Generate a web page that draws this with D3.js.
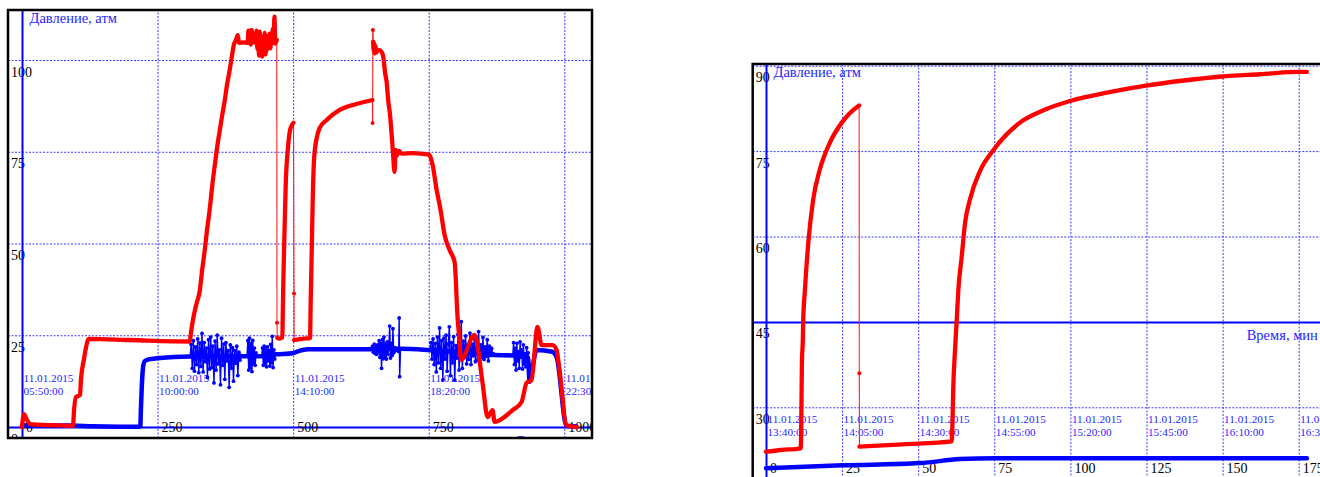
<!doctype html>
<html lang="ru">
<head>
<meta charset="UTF-8">
<title>Давление, атм</title>
<style>
  body { margin: 0; background: #fff; }
  svg text { font-family: "Liberation Serif", "DejaVu Serif", serif; }
</style>
</head>
<body>
<script src="https://d3js.org/d3.v7.min.js"></script>
<script>
// ---- data: left chart (minutes from 11.01.2015 05:50) ----
var leftXTicks = [0, 250, 500, 750, 1000];
var leftYTicks = [0, 25, 50, 75, 100];
var leftTimes = ["05:50:00", "10:00:00", "14:10:00", "18:20:00", "22:30:00"];

// red pressure, split where the logger jumps (drawn thin between parts)
var leftRed = [
  [[0,0],[3.7,3.5],[7.4,2.5],[14.7,0.8],[51.6,0.5],[79,0.4],[94,0.3],[96,4.6],[99.5,8.2],[103,8.4],[107,8.7],
   [108.7,12.8],[114,18.3],[121.6,23.7],[123,24],[199,23.7],[309.5,23.3],[311,25],[315,29],
   [321,33.2],[328,37.3],[332,42.5],[337,48.2],[341,53.4],[346,59.1],[351,66],[355.6,71.4],[360,76.4],
   [364.8,80.9],[369,84.8],[374,89.1],[378,93.2],[383,97.3],[387,101],[390.6,104.1],[394,105.2],[398,106.8],
   [400,104.7],[410,104.8],[416,104.6],
   [417.5,108.0],[419,105.5],[420.5,107.2],[422,104.2],[423.5,108.2],[425,105.0],[426.5,106.5],[428,104.8],
   [429.5,107.0],[431,105.2],[432.5,108.0],[434,103.0],[435.5,106.8],[437,101.2],[438.5,107.7],[440,102.5],
   [441.5,105.8],[443,100.9],[444.5,106.2],[446,103.5],[447.5,107.4],[449,101.5],[450.5,105.0],[452,102.8],
   [453.5,106.6],[455,104.0],[456.5,107.2],[458,103.2],[459.5,105.8],[461,104.5],[462.5,108.5],[464,106.0],
   [465.5,111.8],[467,104.5],[469.8,105.5]],
  [[470.2,28.4]],
  [[470.8,24.3],[475,24.1],[480,24.4],[480.5,27],[481,32],[481.6,37],[482.1,40.9],[484,52.9],[486.4,66.5],
   [490.1,75.5],[494.3,80.9],[497.5,82.2],[500.6,82.9]],
  [[501.6,36.4]],
  [[501.8,23.7],[510,23.9],[520,24.1],[531.1,24.2],[532.4,34.6],[534.3,48.2],[536.1,61.9],[538.5,72.8],
   [543.5,78.8],[549,81.5],[561.3,83.6],[585.9,86.4],[616.6,88.0],[646.1,89.1]],
  [[646.5,82.8]],
  [[647,108.2]],
  [[647.5,105.0],[648.5,102.5],[649.5,104.5],[650.5,101.8],[652,103.8],[653.5,102.0],[655,102.6],[659.5,102.7],
   [665.6,101.3],[670,96],[672,94.5],[676,88],[678,86],[682,79],[684.1,74.6],[687,69.5],[689,75.5],[691,74.0],
   [695,75.2],[700,74.5],[720,74.6],[740,74.4],[751,74.2],[757.2,71.4],[764.6,64.6],[771.9,59.1],[779.3,52.3],
   [788.5,48.2],[797.7,45],[800,40],[802,33],[803.5,29.2],[806,25],[809.5,18.3],[834.6,25.1],[849.3,12.0],
   [858.5,2.7],[867.7,4.6],[871.4,1.4],[904.6,4.6],[921.2,6.8],[930.4,12.0],[939.6,12.8],[950.7,27.3],
   [958.1,22.3],[978.3,22.3],[985.7,21.0],[991.2,15.5],[1004.1,0.5],[1022.5,0]]
];

var leftBlueTrack = [[0,0.5],[50,0.45],[94,0.4],[130,0.2],[180,0.1],[217,0.1],[218.3,0.3],[219.2,4.6],
  [221,11.4],[223.8,16.9],[226.6,18],[235.8,18.5],[254.2,18.8],[309.5,19.2],[404,19.3],[441,19.3],[469,19.8],
  [499,20.1],[510,20.7],[527,21.2],[645,21.2],[700,21.3],[751,21.0],[871,19.6],[903,19.5],[933,19.0],
  [936,12.3],[941,16],[949,21.0],[978,20.5],[986,19.0],[1004,0.3],[1022,0.2]];

var leftBlueBursts = [
  [[310,19.2],[312,22.5],[314,16.0],[316,23.5],[318,15.2],[320,21.8],[322,17.0],[324,24.0],[326,14.8],[328,22.9],
   [330,16.5],[332,25.5],[334,15.0],[336,23.0],[338,17.8],[340,21.5],[342,13.5],[344,23.8],[346,15.8],[348,24.5],
   [350,16.2],[352,22.0],[354,12.0],[356,23.4],[358,15.5],[360,25.0],[362,17.2],[364,21.0],[366,11.5],[368,24.2],
   [370,16.8],[372,22.6],[374,13.0],[376,23.0],[378,18.0],[380,20.8],[382,10.8],[384,22.4],[386,16.0],[388,21.6],
   [390,12.5],[392,20.8],[394,17.4],[396,22.0],[398,14.0],[400,20.4],[402,18.2],[404,19.5]],
  [[415,19.4],[416.5,23.5],[418,15.5],[419.5,24.2],[421,16.0],[422.5,22.8],[424,15.1],[425.5,23.6],[427,17.2],
   [428.5,21.5],[430,16.8],[431.5,20.2]],
  [[442,19.4],[443.5,21.5],[445,16.8],[446.5,22.0],[448,17.0],[449.5,21.2],[451,16.4],[452.5,21.8],[454,18.0],
   [455.5,20.8],[457,16.6],[458.5,22.5],[460,17.5],[461.5,24.7],[463,16.2],[464.5,21.0],[466,18.5],[467.5,19.8]],
  [[645,21.2],[646.5,22.0],[648,20.4],[649.5,22.6],[651,20.0],[652.5,21.8],[654,19.8],[655.5,22.4],[657,20.2],
   [658.5,23.5],[660,19.0],[661.5,22.8],[663,16.0],[664.5,23.8],[666,18.6],[667.5,24.5],[669,19.2],[670.5,22.6],
   [672,18.5],[673.5,23.2],[675,19.8],[676.5,22.4],[678,27.5],[679.5,18.8],[681,22.8],[682.5,19.5],[684,26.8],
   [685.5,20.2],[687,21.6],[688.5,20.8],[690,21.4],[691.5,21.0],[693,21.3],[694.5,20.6],[695.5,29.7],[696.4,13.7],
   [698,21.2]],
  [[752,21.0],[754,23.0],[756,18.5],[758,24.0],[760,17.0],[762,22.8],[764,15.0],[766,24.5],[768,17.5],[770,27.0],
   [772,16.0],[774,23.5],[776,12.8],[778,24.2],[780,18.5],[782,25.0],[784,15.2],[786,22.6],[788,27.3],[790,14.0],
   [792,23.0],[794,17.5],[796,24.6],[798,12.8],[800,22.2],[802,18.8],[804,25.2],[806,15.5],[808,22.0],[810,28.7],
   [812,16.0],[814,23.4],[816,19.0],[818,24.8],[820,17.2],[822,22.4],[824,18.4],[826,25.6],[828,17.0],[830,22.6],
   [832,19.4],[834,24.2],[836,17.8],[838,23.2],[840,18.2],[842,26.0],[844,17.8],[846,22.4],[848,19.0],[850,24.4],
   [852,18.4],[854,21.8],[856,19.2],[858,23.8],[860,18.0],[862,22.0],[864,19.6],[866,21.4],[868,20.0],[870,19.8]],
  [[905,19.6],[906.5,23.0],[908,17.0],[909.5,21.5],[911,15.5],[912.5,22.8],[914,18.0],[915.5,20.5],[917,16.0],
   [918.5,23.2],[920,19.0],[921.5,21.0],[923,15.8],[924.5,22.4],[926,17.2],[927.5,20.0],[929,16.4],[930.5,21.6],
   [932,18.0],[933.5,20.2]]
];

// ---- data: right chart (minutes from 11.01.2015 13:40) ----
var rightXTicks = [0, 25, 50, 75, 100, 125, 150, 175];
var rightYTicks = [30, 45, 60, 75, 90];
var rightTimes = ["13:40:00", "14:05:00", "14:30:00", "14:55:00", "15:20:00", "15:45:00", "16:10:00", "16:35:00"];

var rightRed = [
  [[0,22.2],[5,22.5],[11.4,22.8],[11.6,27.8],[11.7,33.1],[11.8,37.8],[12.1,41.9],[12.2,44.8],[12.8,50.7],
   [13.9,58.9],[15.5,66.5],[17.7,71.8],[21.0,76.5],[24.9,80.0],[27.6,81.7],[30.6,83.0]],
  [[30.65,36.0]],
  [[30.7,23.1],[45,23.5],[61.0,24.0],[61.2,26.0],[61.5,33.1],[62.1,40.1],[62.6,44.8],[63.2,50.7],[64.3,56.5],
   [65.4,62.4],[67.0,66.5],[70.3,71.5],[74.6,75.1],[83.4,80.0],[91.7,82.3],[99.9,83.8],[112.4,85.3],[124.8,86.5],
   [137.3,87.4],[149.8,88.1],[162.3,88.5],[174.8,88.9],[177.7,88.9]]
];

var rightBlueTrack = [[0,19.3],[25.3,19.8],[50.6,20.2],[63.7,20.9],[75.2,21.07],[126,21.03],[177.7,21.07]];

var width = 1320, height = 477;

var svg = d3.select("body").append("svg")
    .attr("width", width)
    .attr("height", height);

var defs = svg.append("defs");

function drawChart(c) {
    var x = d3.scaleLinear().domain(c.xDomain).range(c.xRange);
    var y = d3.scaleLinear().domain(c.yDomain).range(c.yRange);

    defs.append("clipPath").attr("id", "clip-" + c.id)
      .append("rect")
        .attr("x", c.left).attr("y", c.top)
        .attr("width", c.right - c.left).attr("height", c.bottom - c.top);

    var g = svg.append("g").attr("clip-path", "url(#clip-" + c.id + ")");

    // horizontal grid + value labels
    g.append("g")
        .attr("transform", "translate(" + c.left + ",0)")
        .call(d3.axisRight(y).tickValues(c.yTicks).tickSize(c.right - c.left).tickFormat(d3.format("d")))
        .call(function(a) {
            a.attr("font-family", null).attr("font-size", null);
            a.select(".domain").remove();
            a.selectAll("line")
                .attr("stroke", function(d) { return d === c.yAxisAt ? "#0000ff" : "#3a3aff"; })
                .attr("stroke-width", function(d) { return d === c.yAxisAt ? 2 : 1; })
                .attr("stroke-dasharray", function(d) { return d === c.yAxisAt ? null : "2,1.5"; });
            a.selectAll("text")
                .attr("x", 3).attr("y", 16).attr("dy", null)
                .attr("text-anchor", "start")
                .attr("fill", "#000").style("font-size", "14px");
        });

    // vertical grid + minute labels
    g.append("g")
        .attr("transform", "translate(0," + c.bottom + ")")
        .call(d3.axisTop(x).tickValues(c.xTicks).tickSize(c.bottom - c.top).tickFormat(d3.format("d")))
        .call(function(a) {
            a.attr("font-family", null).attr("font-size", null);
            a.select(".domain").remove();
            a.selectAll("line")
                .attr("stroke", function(d) { return d === c.xAxisAt ? "#0000ff" : "#3a3aff"; })
                .attr("stroke-width", function(d) { return d === c.xAxisAt ? 2 : 1; })
                .attr("stroke-dasharray", function(d) { return d === c.xAxisAt ? null : "2,1.5"; });
            a.selectAll("text")
                .attr("x", 3.5).attr("y", -6).attr("dy", null)
                .attr("text-anchor", "start")
                .attr("fill", "#000").style("font-size", "14px");
        });

    // date / time labels
    var dl = g.selectAll(".date").data(c.xTicks).enter().append("text")
        .attr("class", "date")
        .attr("x", function(d) { return x(d) + 1.5; })
        .attr("fill", "#2626ff")
        .style("font-size", "11.2px");
    dl.append("tspan").attr("x", function(d) { return x(d) + 1.5; }).attr("y", c.bottom - 56).text("11.01.2015");
    dl.append("tspan").attr("x", function(d) { return x(d) + 1.5; }).attr("y", c.bottom - 43)
        .text(function(d, i) { return c.times[i]; });

    var line = d3.line().x(function(d) { return x(d[0]); }).y(function(d) { return y(d[1]); });
    var smooth = d3.line().curve(d3.curveMonotoneX)
        .x(function(d) { return x(d[0]); }).y(function(d) { return y(d[1]); });

    // blue trace
    g.append("path").datum(c.blueTrack)
        .attr("fill", "none").attr("stroke", "#0000ff").attr("stroke-width", 4.5)
        .attr("stroke-linejoin", "round").attr("stroke-linecap", "round")
        .attr("d", smooth);
    (c.blueBursts || []).forEach(function(b) {
        g.append("path").datum(b)
            .attr("fill", "none").attr("stroke", "#0000ff").attr("stroke-width", 1.4)
            .attr("d", line);
        g.selectAll(null).data(b).enter().append("circle")
            .attr("cx", function(d) { return x(d[0]); })
            .attr("cy", function(d) { return y(d[1]); })
            .attr("r", 1.9).attr("fill", "#0000ff");
    });

    // red trace: thin jumps between parts, thick parts, dots for lone samples
    for (var i = 1; i < c.red.length; i++) {
        var a = c.red[i - 1], b = c.red[i];
        g.append("path").datum([a[a.length - 1], b[0]])
            .attr("fill", "none").attr("stroke", "#ff2020").attr("stroke-width", 1.1)
            .attr("d", line);
    }
    c.red.forEach(function(seg) {
        if (seg.length === 1) {
            g.append("circle")
                .attr("cx", x(seg[0][0])).attr("cy", y(seg[0][1]))
                .attr("r", 2).attr("fill", "#ff0000");
        } else {
            g.append("path").datum(seg)
                .attr("fill", "none").attr("stroke", "#ff0000").attr("stroke-width", 4.3)
                .attr("stroke-linejoin", "round").attr("stroke-linecap", "round")
                .attr("d", smooth);
        }
    });

    // titles
    g.append("text")
        .attr("x", x(c.xAxisAt) + 7.5).attr("y", c.top + 12.5)
        .attr("fill", "#2626ff").style("font-size", "14.5px")
        .text("Давление, атм");
    g.append("text")
        .attr("x", c.right - 75.3).attr("y", y(c.yAxisAt) + 18.5)
        .attr("fill", "#2626ff").style("font-size", "14.5px")
        .text("Время, мин");

    // frame
    svg.append("rect")
        .attr("x", c.left).attr("y", c.top)
        .attr("width", c.right - c.left).attr("height", c.bottom - c.top)
        .attr("fill", "none").attr("stroke", "#000").attr("stroke-width", 2.5);
}

drawChart({
    id: "left", left: 8, top: 10, right: 592, bottom: 438,
    xDomain: [0, 1000], xRange: [22, 564.3],
    yDomain: [0, 100], yRange: [427, 60],
    xTicks: leftXTicks, yTicks: leftYTicks, times: leftTimes,
    xAxisAt: 0, yAxisAt: 0,
    red: leftRed, blueTrack: leftBlueTrack, blueBursts: leftBlueBursts
});

drawChart({
    id: "right", left: 752.7, top: 64, right: 1322, bottom: 479,
    xDomain: [0, 175], xRange: [766, 1298.7],
    yDomain: [30, 90], yRange: [407.3, 65.7],
    xTicks: rightXTicks, yTicks: rightYTicks, times: rightTimes,
    xAxisAt: 0, yAxisAt: 45,
    red: rightRed, blueTrack: rightBlueTrack, blueBursts: []
});
</script>
</body>
</html>
